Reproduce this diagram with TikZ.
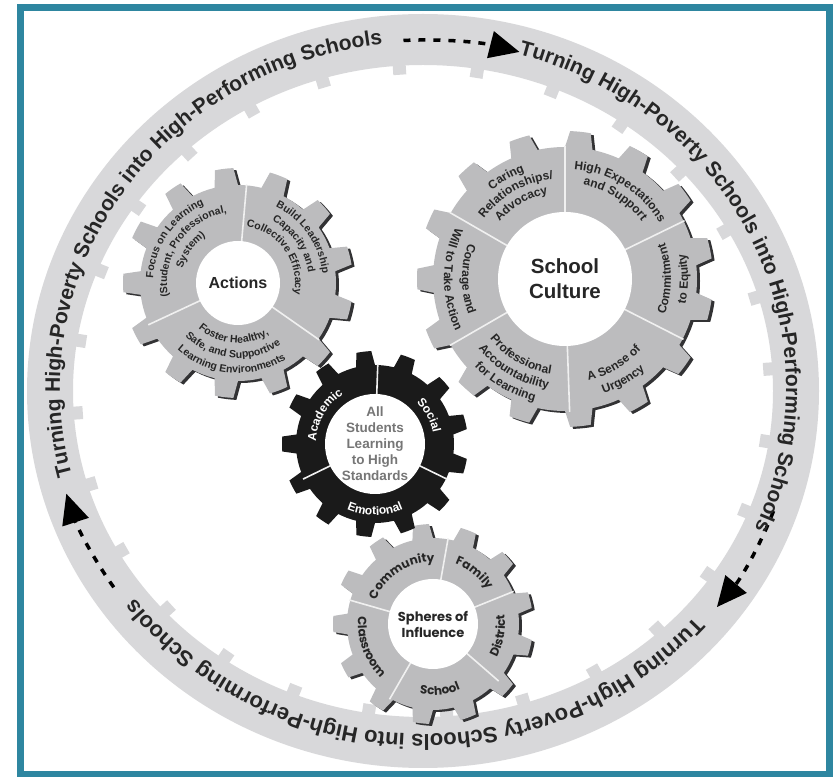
\documentclass[tikz,border=0pt]{standalone}
\usepackage{fontspec}
\setmainfont{Liberation Sans}
\newfontfamily\spheresfamily{Poppins}
\usepackage{tikz}
\usetikzlibrary{decorations.text,arrows.meta}
\definecolor{frameteal}{RGB}{46,134,160}
\definecolor{ringgray}{RGB}{216,216,218}
\definecolor{geargray}{RGB}{188,188,190}
\definecolor{gearedge}{RGB}{50,50,52}
\definecolor{gearblack}{RGB}{26,26,26}
\definecolor{labelgray}{RGB}{38,38,38}
\definecolor{hubgray}{RGB}{118,118,118}

\newcommand{\ringfont}{\bfseries\fontsize{21}{24}\selectfont\color{labelgray}}
\newcommand{\ringfontwide}{\bfseries\fontsize{22}{26}\selectfont\color{labelgray}}
\newcommand{\sectorfont}{\bfseries\fontsize{10.5}{13}\selectfont\color{labelgray}}
\newcommand{\culturefont}{\bfseries\fontsize{12}{14}\selectfont\color{labelgray}}
\newcommand{\centrefont}{\bfseries\fontsize{12}{14}\selectfont\color{white}}
\newcommand{\spheresfont}{\spheresfamily\bfseries\fontsize{12}{14}\selectfont\color{labelgray}}

% gear outline: teeth, root radius, tip radius
\newcommand{\gearshape}[3]{(0:#2)
  \foreach \k [evaluate=\k as \gang using (\k-1)*360/#1] in {1,...,#1}{
    arc[start angle=\gang, end angle=\gang+90/#1, radius=#2]
    -- (\gang+120/#1:#3) arc[start angle=\gang+120/#1, end angle=\gang+240/#1, radius=#3]
    -- (\gang+270/#1:#2) arc[start angle=\gang+270/#1, end angle=\gang+360/#1, radius=#2]
  } -- cycle}
% curved label: centre angle, radius, font, text
% tops pointing out (clockwise) or in (counter-clockwise)
\newcommand{\outtext}[4]{\path[decorate, decoration={text along path, text align=center, text={|#3|#4}}]
  (#1+70:#2) arc[start angle=#1+70, end angle=#1-70, radius=#2];}
\newcommand{\intext}[4]{\path[decorate, decoration={text along path, text align=center, text={|#3|#4}}]
  (#1-70:#2) arc[start angle=#1-70, end angle=#1+70, radius=#2];}

\begin{document}
\begin{tikzpicture}[
    x=1pt, y=1pt,
    every node/.style={align=center},
    hub/.style={circle, fill=white, inner sep=0pt, text=labelgray},
    gearbody/.style={fill=geargray},
    gearshadow/.style={fill=gearedge, shift={(3,-2)}},
    divider/.style={draw=white!88!gray, line width=1.6pt},
    ringband/.style={fill=ringgray},
    ringarrow/.style={draw=black, line width=3.5pt, dash pattern=on 7pt off 8pt, -{Triangle[length=30pt, width=27pt]}}
]
\useasboundingbox (0,0) rectangle (836,777);

% Outer ring with its small inner teeth
\begin{scope}[shift={(423,386)}]
  \fill[ringband, even odd rule] (0,0) ellipse[x radius=396, y radius=377] (0,0) ellipse[x radius=350, y radius=326];
  \foreach \tab in {0,...,27}
    \fill[ringband, shift={(3.9+\tab*12.857:350 and 326)}, rotate=3.9+\tab*12.857] (-9,-6.5) rectangle (2,6.5);
  \foreach \s/\e in {93/75, -20/-38, 214/197}
    \draw[ringarrow] (\s:373 and 351) arc[start angle=\s, end angle=\e, x radius=373, y radius=351];
\end{scope}
\begin{scope}[shift={(423,389)}]
  \foreach \c/\f in {146/\ringfont, 25/\ringfont, -92/\ringfontwide}
    \path[decorate, decoration={text along path, text align=center,
        text={|\f|Turning High-Poverty Schools into High-Performing Schools}}]
      (\c+75:363 and 346) arc[start angle=\c+75, end angle=\c-75, x radius=363, y radius=346];
\end{scope}

% Actions gear
\begin{scope}[shift={(238,494)}]
  \fill[gearshadow] \gearshape{13}{98}{115};
  \fill[gearbody] \gearshape{13}{98}{115};
  \foreach \ang in {85,205,325} \draw[divider] (0,0) -- (\ang:99);
  \node[hub, minimum size=84, font=\bfseries\fontsize{16}{18}\selectfont] (actions_hub) at (0,0) {Actions};
  \outtext{145}{85}{\sectorfont}{Focus on Learning}
  \outtext{145}{71}{\sectorfont}{(Student, Professional,}
  \outtext{145}{57}{\sectorfont}{System)}
  \outtext{35}{85}{\sectorfont}{Build Leadership}
  \outtext{35}{71}{\sectorfont}{Capacity and}
  \outtext{35}{57}{\sectorfont}{Collective Efficacy}
  \intext{265}{60}{\sectorfont}{Foster Healthy,}
  \intext{265}{75}{\sectorfont}{Safe, and Supportive}
  \intext{265}{90}{\sectorfont}{Learning Environments}
\end{scope}

% School Culture gear
\begin{scope}[shift={(565,498)}]
  \fill[gearshadow] \gearshape{15}{132}{148};
  \fill[gearbody] \gearshape{15}{132}{148};
  \foreach \ang in {90,26,-27,-88,210,150} \draw[divider] (0,0) -- (\ang:133);
  \node[hub, minimum size=134, font=\bfseries\fontsize{20.5}{25}\selectfont] (culture_hub) at (0,0) {School\\Culture};
  \outtext{120}{115}{\culturefont}{Caring}
  \outtext{120}{101}{\culturefont}{Relationships/}
  \outtext{120}{87}{\culturefont}{Advocacy}
  \outtext{58}{110}{\culturefont}{High Expectations}
  \outtext{58}{96}{\culturefont}{and Support}
  \intext{0}{106}{\culturefont}{Commitment}
  \intext{0}{123}{\culturefont}{to Equity}
  \intext{-60}{104}{\culturefont}{A Sense of}
  \intext{-60}{121}{\culturefont}{Urgency}
  \intext{240}{96}{\culturefont}{Professional}
  \intext{240}{111}{\culturefont}{Accountability}
  \intext{240}{126}{\culturefont}{for Learning}
  \intext{180}{103}{\culturefont}{Courage and}
  \intext{180}{121}{\culturefont}{Will to Take Action}
\end{scope}

% Spheres of Influence gear
\begin{scope}[shift={(433,153)}]
  \fill[gearshadow] \gearshape{13}{86}{100};
  \fill[gearbody] \gearshape{13}{86}{100};
  \foreach \ang in {80,22,-41,-120,164} \draw[divider] (0,0) -- (\ang:87);
  \node[hub, minimum size=90, font=\spheresfamily\bfseries\fontsize{13}{16}\selectfont] (spheres_hub) at (0,0) {Spheres of\\Influence};
  \outtext{123}{62}{\spheresfont}{Community}
  \outtext{51}{64}{\spheresfont}{Family}
  \intext{-10}{72}{\spheresfont}{District}
  \intext{-84}{71}{\spheresfont}{School}
  \intext{200}{75}{\spheresfont}{Classroom}
\end{scope}

% Centre gear
\begin{scope}[shift={(375,333)}]
  \fill[gearblack] \gearshape{13}{79}{93};
  \foreach \ang in {88,206,-26} \draw[divider] (0,0) -- (\ang:80);
  \node[hub, minimum size=100, text=hubgray, font=\bfseries\fontsize{13.5}{16}\selectfont] (students_hub) at (0,0) {All\\Students\\Learning\\to High\\Standards};
  \outtext{150}{59}{\centrefont}{Academic}
  \outtext{28}{59}{\centrefont}{Social}
  \intext{270}{71}{\centrefont}{Emotional}
\end{scope}

% Frame
\draw[frameteal, line width=7] (20.5,2.5) rectangle (829,769);
\end{tikzpicture}
\end{document}
